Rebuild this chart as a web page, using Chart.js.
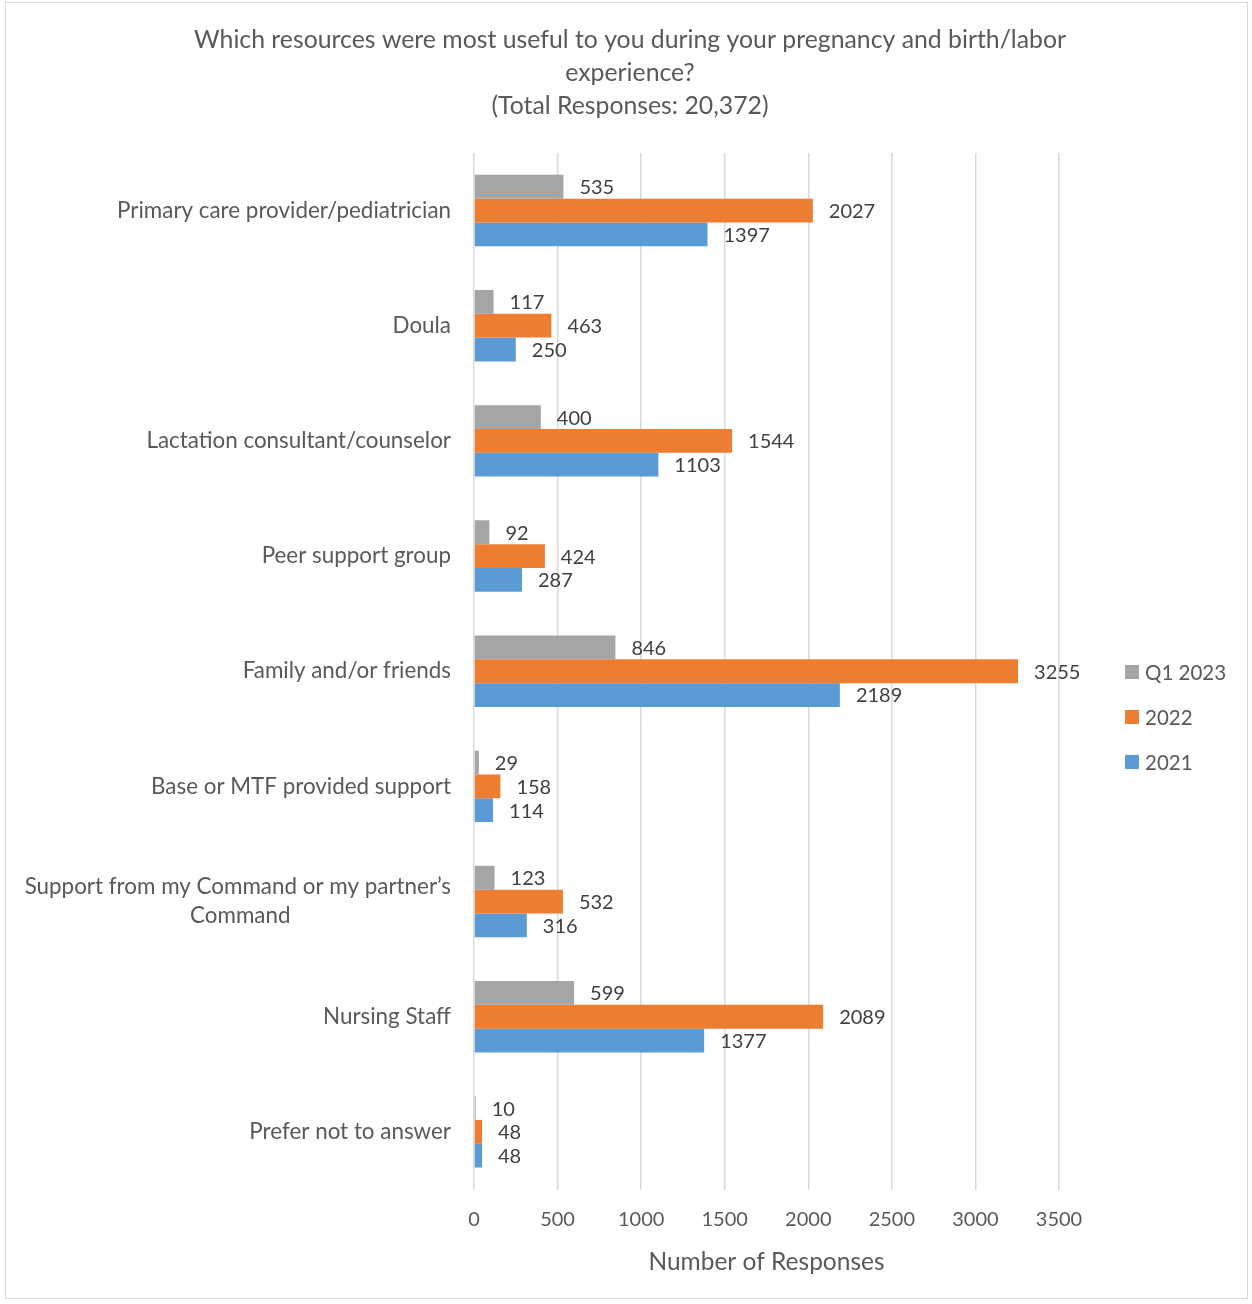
<!DOCTYPE html>
<html>
<head>
<meta charset="utf-8">
<script src="https://cdn.jsdelivr.net/npm/chart.js@4/dist/chart.umd.min.js"></script>
<style>
  body { margin: 0; background: #fff; }
  .wrapper_main { position: relative; width: 1252px; height: 1304px; }
  .chart_frame {
    position: absolute; left: 5px; top: 2px; width: 1243px; height: 1297px;
    border: 1.5px solid #d9d9d9; box-sizing: border-box;
  }
  #chart-container { position: absolute; left: 0; top: 0; width: 1252px; height: 1304px; }
  #legend-container { position: absolute; left: 1125px; top: 660px; font-family: Lato, sans-serif; font-size: 20.5px; color: #595959; }
  .legend_item { display: flex; align-items: center; height: 24px; margin-bottom: 21px; }
  .legend_box { width: 14px; height: 14px; margin-right: 6px; }
</style>
</head>
<body>
<div class="wrapper_main">
  <div class="chart_frame"></div>
  <div id="chart-container"><canvas id="myChart" width="1252" height="1304"></canvas></div>
  <div id="legend-container"></div>
</div>
<script>
const categories = [
  "Primary care provider/pediatrician",
  "Doula",
  "Lactation consultant/counselor",
  "Peer support group",
  "Family and/or friends",
  "Base or MTF provided support",
  ["Support from my Command or my partner\u2019s", "Command"],
  "Nursing Staff",
  "Prefer not to answer"
];
const seriesNames = ["Q1 2023", "2022", "2021"];
const valuesQ12023 = [535, 117, 400, 92, 846, 29, 123, 599, 10];
const values2022 = [2027, 463, 1544, 424, 3255, 158, 532, 2089, 48];
const values2021 = [1397, 250, 1103, 287, 2189, 114, 316, 1377, 48];
const seriesColors = ["#A5A5A5", "#ED7D31", "#5B9BD5"];
const xTicks = [0, 500, 1000, 1500, 2000, 2500, 3000, 3500];

const FONT = "Lato, sans-serif";
const TEXT_GREY = "#595959";
const CAT_FONT_SIZE = 22.4;

// pad the shorter lines of a wrapped label so the right-aligned block reads as centred
function centreLines(lines, font) {
  if (!Array.isArray(lines)) return lines;
  const ctx = document.createElement("canvas").getContext("2d");
  ctx.font = font;
  const widest = Math.max(...lines.map(l => ctx.measureText(l).width));
  const space = ctx.measureText(" ").width;
  return lines.map(l => {
    const extra = Math.round((widest - ctx.measureText(l).width) / 2 / space);
    return l + " ".repeat(extra);
  });
}

// value labels just past the end of each bar
const barValueLabels = {
  id: "barValueLabels",
  afterDatasetsDraw(chart) {
    const ctx = chart.ctx;
    ctx.save();
    ctx.font = "20px " + FONT;
    ctx.fillStyle = "#404040";
    ctx.textAlign = "left";
    ctx.textBaseline = "middle";
    chart.data.datasets.forEach((ds, i) => {
      chart.getDatasetMeta(i).data.forEach((bar, j) => {
        ctx.fillText(ds.data[j], bar.x + 16, bar.y + 1);
      });
    });
    ctx.restore();
  }
};

const chartData = {
  labels: categories.map(c => centreLines(c, CAT_FONT_SIZE + "px " + FONT)),
  datasets: [
    { label: seriesNames[0], data: valuesQ12023, backgroundColor: seriesColors[0] },
    { label: seriesNames[1], data: values2022, backgroundColor: seriesColors[1] },
    { label: seriesNames[2], data: values2021, backgroundColor: seriesColors[2] }
  ]
};

const ctx = document.getElementById("myChart").getContext("2d");
const chart = new Chart(ctx, {
  type: "bar",
  data: chartData,
  plugins: [barValueLabels],
  options: {
    indexAxis: "y",
    responsive: false,
    animation: false,
    categoryPercentage: 0.62,
    barPercentage: 1.0,
    layout: { padding: { left: 8, right: 0, top: 0, bottom: 30 } },
    plugins: {
      legend: { display: false },
      tooltip: { enabled: false },
      title: {
        display: true,
        text: [
          "Which resources were most useful to you during your pregnancy and birth/labor",
          "experience?",
          "(Total Responses: 20,372)"
        ],
        color: TEXT_GREY,
        font: { family: FONT, size: 24.8, weight: "normal", lineHeight: 1.33 },
        padding: { top: 24, bottom: 30 }
      }
    },
    scales: {
      x: {
        min: 0,
        max: 3500,
        afterBuildTicks(scale) { scale.ticks = xTicks.map(v => ({ value: v })); },
        grid: { color: "#d9d9d9", lineWidth: 1.5, drawTicks: false },
        border: { display: false },
        ticks: {
          color: TEXT_GREY,
          padding: 20,
          font: { family: FONT, size: 20, lineHeight: 1.0 },
          callback: v => String(v)
        },
        title: {
          display: true,
          text: "Number of Responses",
          color: TEXT_GREY,
          font: { family: FONT, size: 24.5, lineHeight: 1.0 },
          padding: { top: 0, bottom: 0 }
        }
      },
      y: {
        afterFit(scale) { scale.width = 466; },
        grid: { display: false, drawTicks: false },
        border: { display: false },
        ticks: { color: TEXT_GREY, padding: 23, font: { family: FONT, size: CAT_FONT_SIZE, lineHeight: 1.3 } }
      },
      // empty right-hand axis that reserves the gutter for the legend
      legendGutter: {
        axis: "y",
        type: "linear",
        position: "right",
        afterFit(scale) { scale.width = 193; },
        grid: { display: false, drawTicks: false },
        border: { display: false },
        ticks: { display: false }
      }
    }
  }
});

// legend built from the datasets
const legendContainer = document.getElementById("legend-container");
chart.data.datasets.forEach(ds => {
  const item = document.createElement("div");
  item.className = "legend_item";
  const box = document.createElement("span");
  box.className = "legend_box";
  box.style.background = ds.backgroundColor;
  const text = document.createElement("span");
  text.textContent = ds.label;
  item.appendChild(box);
  item.appendChild(text);
  legendContainer.appendChild(item);
});
</script>
</body>
</html>
